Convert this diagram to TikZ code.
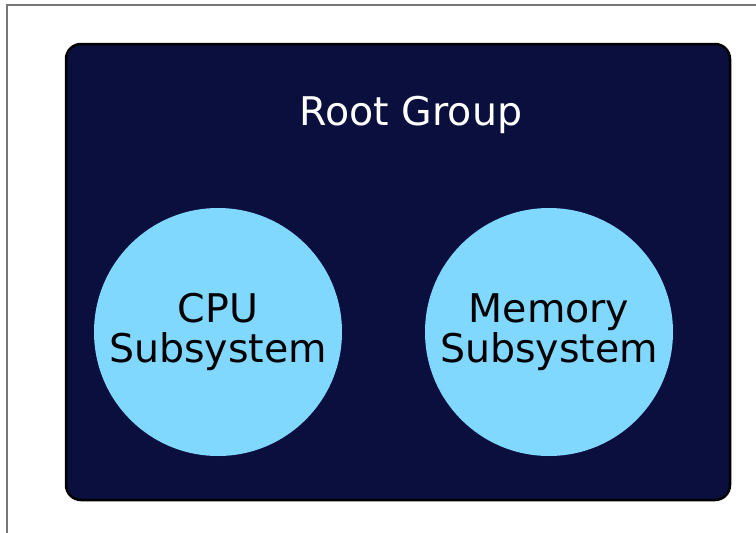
\documentclass[tikz,border=0pt]{standalone}
\usepackage{fontspec}
\setmainfont{DejaVu Sans}
\definecolor{navy}{HTML}{0A0F3D}
\definecolor{sky}{HTML}{80D8FF}
\definecolor{frame}{HTML}{777777}
\tikzset{
  group/.style={draw=black, line width=2.5pt, fill=navy, rounded corners=15pt},
  subsys/.style={circle, fill=sky, minimum size=248pt, inner sep=0pt, align=center,
     font=\fontsize{39.5}{40}\selectfont, text=black},
  title/.style={font=\fontsize{39.5}{40}\selectfont, text=white}
}
\begin{document}
\begin{tikzpicture}[x=1pt,y=-1pt]
\useasboundingbox (0,0) rectangle (756,533);
\draw[frame, line width=1.5pt] (7,533) -- (7,5) -- (756,5);
\draw[group] (66,44) rectangle (730,500);
\node[title] (root) at (411,115) {Root Group};
\node[subsys] (cpu) at (218,332) {\raisebox{-3pt}{\parbox{220pt}{\centering CPU\\Subsystem}}};
\node[subsys] (mem) at (549,332) {\raisebox{-3pt}{\parbox{220pt}{\centering Memory\\Subsystem}}};
\end{tikzpicture}
\end{document}
